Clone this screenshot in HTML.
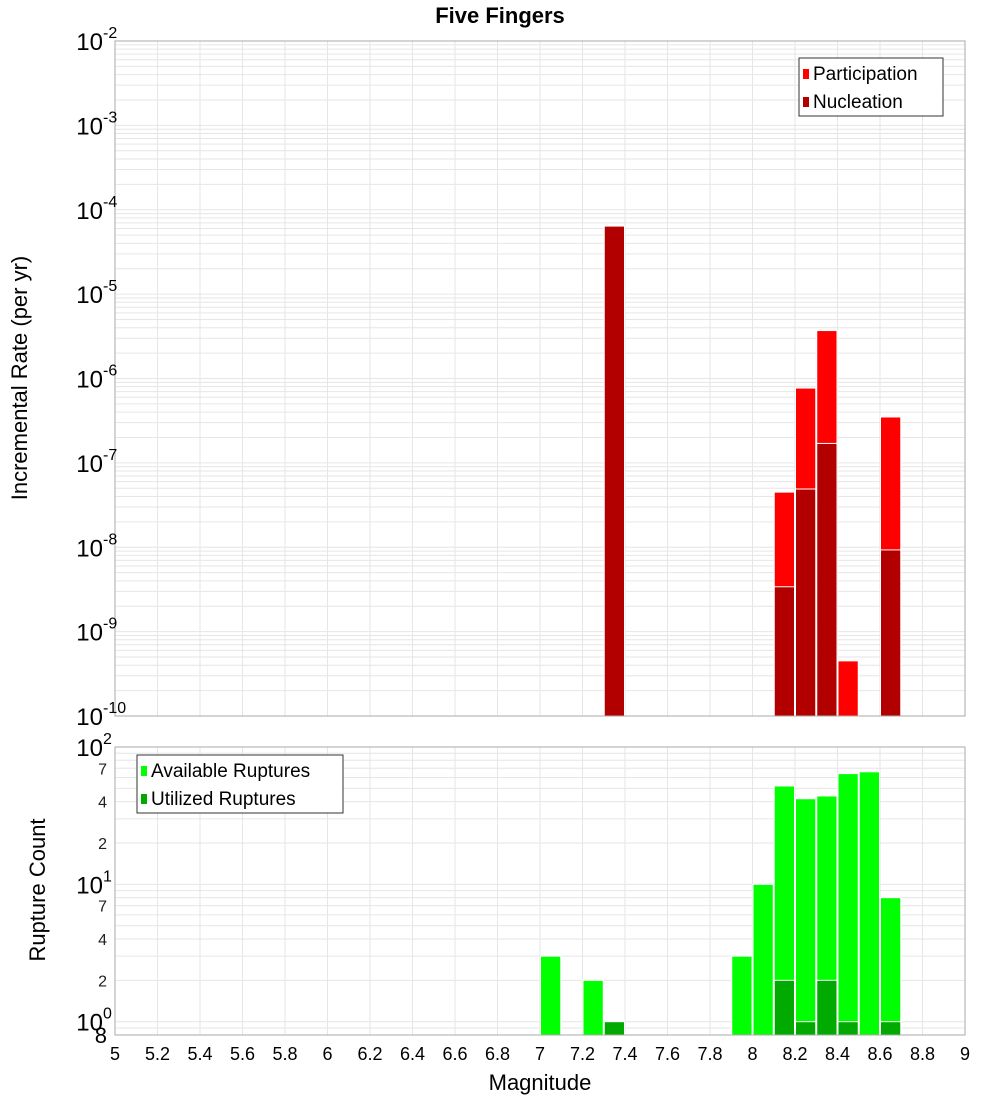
<!DOCTYPE html>
<html><head><meta charset="utf-8">
<style>
html,body{margin:0;padding:0;background:#fff;}
svg text{font-family:"Liberation Sans","DejaVu Sans",sans-serif;}
</style></head>
<body>
<svg id="c" width="1000" height="1100" xmlns="http://www.w3.org/2000/svg">
<text x="500" y="23" text-anchor="middle" font-size="22" font-weight="bold">Five Fingers</text>
<text transform="translate(27,378) rotate(-90)" text-anchor="middle" font-size="22">Incremental Rate (per yr)</text>
<text transform="translate(45,890) rotate(-90)" text-anchor="middle" font-size="22">Rupture Count</text>
<text x="540" y="1090" text-anchor="middle" font-size="22">Magnitude</text>
<g id="top"></g><g id="bot"></g>
</svg>
<script>
// data
const magCenters = [7.35, 8.15, 8.25, 8.35, 8.45, 8.65];
const participation = [6.4e-5, 4.5e-8, 7.7e-7, 3.7e-6, 4.5e-10, 3.5e-7];
const nucleation = [6.4e-5, 3.4e-9, 4.9e-8, 1.7e-7, 0, 9.3e-9];
const countMags = [7.05, 7.25, 7.35, 7.95, 8.05, 8.15, 8.25, 8.35, 8.45, 8.55, 8.65];
const available = [3, 2, 0, 3, 10, 52, 42, 44, 64, 66, 8];
const utilized = [0, 0, 1, 0, 0, 2, 1, 2, 1, 0, 1];
const xTicks = [5,5.2,5.4,5.6,5.8,6,6.2,6.4,6.6,6.8,7,7.2,7.4,7.6,7.8,8,8.2,8.4,8.6,8.8,9];
const topExps = [-2,-3,-4,-5,-6,-7,-8,-9,-10];

const NS="http://www.w3.org/2000/svg";
const svg=document.getElementById('c');
function mk(tag,attrs,parent){const e=document.createElementNS(NS,tag);for(const k in attrs)e.setAttribute(k,attrs[k]);(parent||svg).appendChild(e);return e;}
const X0=115,X1=965;
const x=m=>X0+(m-5)/(9-5)*(X1-X0);
// top axis
const T0=41,T1=716;
const yT=v=>T1-(Math.log10(v)+10)/8*(T1-T0);
// bottom axis
const B0=747,B1=1035,BMIN=0.8,BMAX=100;
const yB=v=>B1-(Math.log10(v)-Math.log10(BMIN))/(Math.log10(BMAX)-Math.log10(BMIN))*(B1-B0);
const gTop=document.getElementById('top'),gBot=document.getElementById('bot');

function grid(g,y0,y1,yf,lo,hi){
  for(let d=lo;d<hi;d++)for(let k=1;k<10;k++){const v=k*Math.pow(10,d);const yy=yf(v);if(yy<y0-0.5||yy>y1+0.5)continue;
    const l=mk('line',{x1:X0,x2:X1,y1:yy,y2:yy,stroke:'#e6e6e6','stroke-width':1},g);
    
    }
  xTicks.forEach(t=>{const l=mk('line',{x1:x(t),x2:x(t),y1:y0,y2:y1,stroke:'#e6e6e6','stroke-width':1},g);
    
    });
}
grid(gTop,T0,T1,yT,-10,-1);
grid(gBot,B0,B1,yB,-1,2);

// top bars
magCenters.forEach((m,i)=>{
  const r=mk('rect',{x:x(m-0.05)+0.5,y:yT(participation[i]),width:x(m+0.05)-x(m-0.05)-1,height:T1-yT(participation[i]),fill:'#ff0000',stroke:'#fff','stroke-width':1},gTop);
  
  
  if(nucleation[i]>0){const n=mk('rect',{x:x(m-0.05)+0.5,y:yT(nucleation[i]),width:x(m+0.05)-x(m-0.05)-1,height:T1-yT(nucleation[i]),fill:'#b20000',stroke:'#fff','stroke-width':1},gTop);
    
    }
});
// bottom bars
countMags.forEach((m,i)=>{
  if(available[i]>0){const r=mk('rect',{x:x(m-0.05)+0.5,y:yB(available[i]),width:x(m+0.05)-x(m-0.05)-1,height:B1-yB(available[i]),fill:'#00ff00',stroke:'#fff','stroke-width':1},gBot);
    
    }
  if(utilized[i]>0){const n=mk('rect',{x:x(m-0.05)+0.5,y:yB(utilized[i]),width:x(m+0.05)-x(m-0.05)-1,height:B1-yB(utilized[i]),fill:'#00aa00',stroke:'#fff','stroke-width':1},gBot);
    
    }
});
// frames
const f1=mk('rect',{x:X0,y:T0,width:X1-X0,height:T1-T0,fill:'none',stroke:'#aaa','stroke-width':1});


const f2=mk('rect',{x:X0,y:B0,width:X1-X0,height:B1-B0,fill:'none',stroke:'#aaa','stroke-width':1});



function powLabel(yy,exp,name){
  const t=mk('text',{x:103,y:yy+9,'text-anchor':'end','font-size':24});
  t.textContent='10';
  
  
  const s=mk('text',{x:103,y:yy-3,'font-size':16});
  s.textContent=exp;
  
  
}
topExps.forEach(e=>powLabel(yT(Math.pow(10,e)),String(e),'top-y-tick-label'));
[2,1,0].forEach(e=>powLabel(yB(Math.pow(10,e)),String(e),'bottom-y-tick-label'));
[70,40,20,7,4,2].forEach(v=>{const t=mk('text',{x:107,y:yB(v)+6,'text-anchor':'end','font-size':16,fill:'#222'});
  t.textContent=String(v).charAt(0);
  
  });
{const t=mk('text',{x:107,y:yB(0.8)+8,'text-anchor':'end','font-size':22});t.textContent='8';
 
 }
xTicks.forEach(v=>{const t=mk('text',{x:x(v),y:1060,'text-anchor':'middle','font-size':18});
  t.textContent=String(v);
  
  });

function legend(bx,by,w,items,name){
  const g=mk('g',{});
  
  
  mk('rect',{x:bx,y:by,width:w,height:58,fill:'#fff',stroke:'#333','stroke-width':1},g);
  items.forEach((it,i)=>{
    const sw=mk('rect',{x:bx+4,y:by+11+i*28,width:6,height:10,fill:it[1]},g);
    
    
    const t=mk('text',{x:bx+14,y:by+22+i*28,'font-size':19},g);
    t.textContent=it[0];
    
    
  });
}
legend(799,58,144,[['Participation','#ff0000'],['Nucleation','#b20000']],'top-legend');
legend(137,755,206,[['Available Ruptures','#00ff00'],['Utilized Ruptures','#00aa00']],'bottom-legend');
</script>
</body></html>
